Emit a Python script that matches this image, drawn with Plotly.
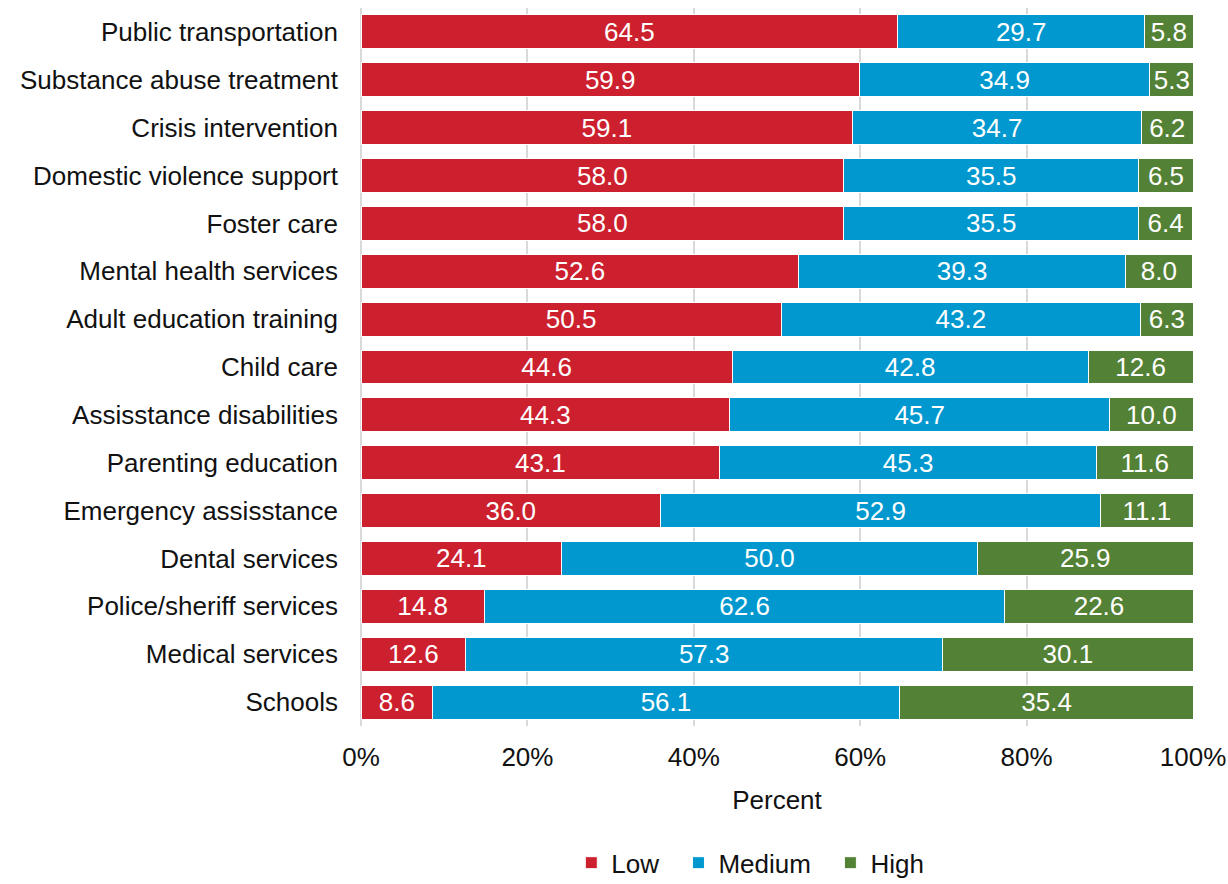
import plotly.graph_objects as go

categories = [
    "Public transportation", "Substance abuse treatment", "Crisis intervention",
    "Domestic violence support", "Foster care", "Mental health services",
    "Adult education training", "Child care", "Assisstance disabilities",
    "Parenting education", "Emergency assisstance", "Dental services",
    "Police/sheriff services", "Medical services", "Schools",
]
low = [64.5, 59.9, 59.1, 58.0, 58.0, 52.6, 50.5, 44.6, 44.3, 43.1, 36.0, 24.1, 14.8, 12.6, 8.6]
medium = [29.7, 34.9, 34.7, 35.5, 35.5, 39.3, 43.2, 42.8, 45.7, 45.3, 52.9, 50.0, 62.6, 57.3, 56.1]
high = [5.8, 5.3, 6.2, 6.5, 6.4, 8.0, 6.3, 12.6, 10.0, 11.6, 11.1, 25.9, 22.6, 30.1, 35.4]
tick_vals = [0, 20, 40, 60, 80, 100]
tick_text = ["0%", "20%", "40%", "60%", "80%", "100%"]

# trailing no-break spaces widen the gap between legend entries
series = [
    ("Low\u00a0\u00a0", low, "#CD202F"),
    ("Medium\u00a0\u00a0", medium, "#0098CE"),
    ("High", high, "#538135"),
]

FONT = "Liberation Sans, Arial, sans-serif"
SIZE = 26

fig = go.Figure()
for name, vals, color in series:
    fig.add_trace(go.Bar(
        y=categories, x=vals, name=name, orientation="h",
        marker=dict(color=color, line=dict(color="white", width=1)),
        texttemplate="%{x:.1f}", textposition="inside",
        insidetextanchor="middle", constraintext="none",
        textfont=dict(color="white", size=SIZE, family=FONT),
        hoverinfo="skip",
    ))

fig.update_layout(
    barmode="stack", bargap=0.29,
    width=1228, height=884,
    margin=dict(l=361, r=35, t=8, b=158, autoexpand=False),
    plot_bgcolor="white", paper_bgcolor="white",
    font=dict(family=FONT, size=SIZE, color="#111111"),
    showlegend=True,
    legend=dict(orientation="h", xref="container", x=0.611, xanchor="center",
                yref="container", y=0.024, yanchor="middle",
                font=dict(size=SIZE, family=FONT, color="#111111"),
                itemwidth=30, traceorder="normal"),
    xaxis=dict(range=[0, 100], tickmode="array", tickvals=tick_vals, ticktext=tick_text,
               showgrid=True, gridcolor="#D9D9D9", gridwidth=2,
               zeroline=True, zerolinecolor="#D9D9D9", zerolinewidth=2,
               showline=False, ticks="", ticklabelstandoff=13, automargin=False,
               tickfont=dict(size=SIZE),
               title=dict(text="Percent", font=dict(size=SIZE), standoff=19)),
    yaxis=dict(autorange="reversed", showgrid=False, zeroline=False, ticks="",
               ticklabelstandoff=22, automargin=False, tickfont=dict(size=SIZE)),
)

fig.write_html("out.html")
